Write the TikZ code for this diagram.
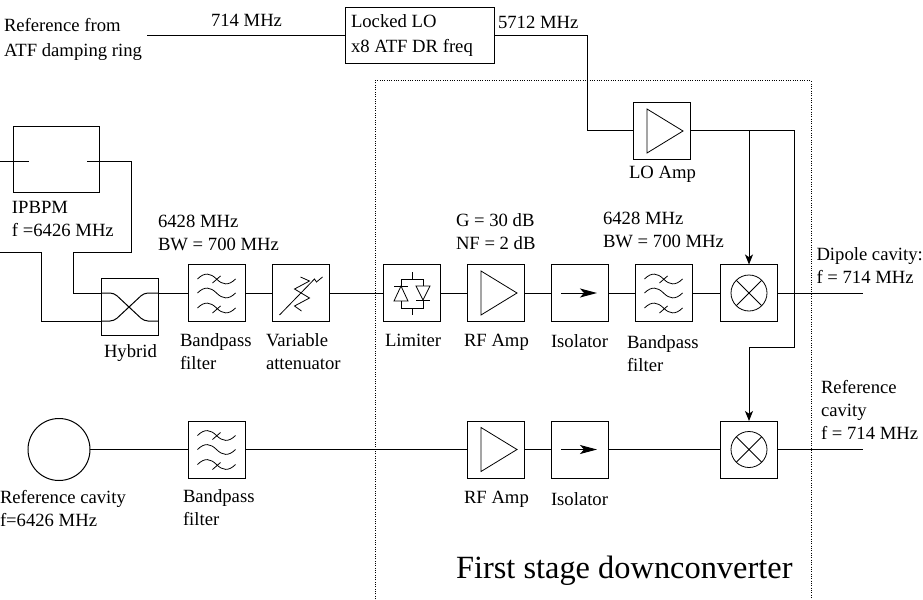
\documentclass[tikz,border=0pt]{standalone}
\usepackage{fontspec}
\setmainfont{Liberation Serif}
\usetikzlibrary{arrows.meta}
\tikzset{
  unit/.style={draw,line width=0.75pt,minimum size=42.75pt,inner sep=0pt,outer sep=0pt},
  wire/.style={line width=0.75pt},
  sym/.style={line width=0.6pt},
  lbl/.style={anchor=north west,inner sep=0pt,outer sep=0pt,align=left,font=\fontsize{14}{17.3}\selectfont},
}
\newcommand{\wavesym}[1]{\begin{scope}[shift={(#1)},sym]
  \foreach \yy in {-14,0,15}{
    \draw (-19,\yy) .. controls (-12,\yy-7) and (-6,\yy-6) .. (0,\yy) .. controls (6,\yy+6) and (12,\yy+7) .. (19,\yy);}
  \draw (-4,-10) -- (4,-17);
  \draw (-4,20) -- (4,13);
\end{scope}}
\newcommand{\ampsym}[1]{\begin{scope}[shift={(#1)},sym]
  \draw (-15,-22) -- (21,0) -- (-15,22) -- cycle;
\end{scope}}
\newcommand{\isosym}[1]{\begin{scope}[shift={(#1)}]
  \draw[wire,-{Stealth[length=12.75pt,width=6.75pt,inset=3pt]}] (-19,0) -- (17,0);
\end{scope}}
\newcommand{\mixsym}[1]{\begin{scope}[shift={(#1)},sym]
  \draw (0,0) circle (18);
  \draw (-12.7,-12.7) -- (12.7,12.7) (-12.7,12.7) -- (12.7,-12.7);
\end{scope}}
\newcommand{\attsym}[1]{\begin{scope}[shift={(#1)},sym]
  \draw (-21,22) -- (14,-14) -- (16,-11) -- (22,-16);
  \draw (0,-16) -- (9,-12) -- (-6,-4) -- (9,5) -- (-6,13) -- (1,18);
\end{scope}}
\newcommand{\limsym}[1]{\begin{scope}[shift={(#1)},sym]
  \draw (0,-21) -- (0,-14) (0,15) -- (0,22);
  \draw (-11,-7) -- (-11,-14) -- (11,-14) -- (11,-7);
  \draw (-11,8) -- (-11,15) -- (11,15) -- (11,7);
  \draw (-11,-7) -- (-18,8) -- (-4,8) -- cycle;
  \draw (-18,-7) -- (-4,-7);
  \draw (4,-7) -- (18,-7) -- (11,7) -- cycle;
  \draw (4,7) -- (18,7);
\end{scope}}
\begin{document}
\begin{tikzpicture}[x=0.75pt,y=-0.75pt]
\path[use as bounding box] (0,0) rectangle (923,599);
\clip (0,0) rectangle (923,599);
% frame
\draw[line width=0.75pt,densely dotted] (375,599) -- (375,81) -- (811,81) -- (811,599);
% units
\node[draw,line width=0.75pt,minimum width=111.75pt,minimum height=42pt,inner sep=0,outer sep=0] (lo) at (419.5,36) {};
\node[unit] (loamp) at (662,131) {};
\node[draw,line width=0.75pt,minimum width=64.5pt,minimum height=48.75pt,inner sep=0,outer sep=0] (bpm) at (56.5,159.5) {};
\node[unit] (hyb) at (129.5,307) {};
\node[unit] (bp1) at (216.5,293) {};
\node[unit] (att) at (300.5,293) {};
\node[unit] (lim) at (412,293) {};
\node[unit] (amp1) at (496,293) {};
\node[unit] (iso1) at (580,293) {};
\node[unit] (bp2) at (663.5,293) {};
\node[unit] (mix1) at (749,293) {};
\node[draw,circle,line width=0.75pt,minimum size=46.5pt,inner sep=0,outer sep=0] (cav) at (59,449.5) {};
\node[unit] (bp3) at (216.5,449.5) {};
\node[unit] (amp2) at (496,449.5) {};
\node[unit] (iso2) at (580,449.5) {};
\node[unit] (mix2) at (749,449.5) {};
% symbols
\ampsym{loamp.center}\ampsym{amp1.center}\ampsym{amp2.center}
\wavesym{bp1.center}\wavesym{bp2.center}\wavesym{bp3.center}
\attsym{att.center}\limsym{lim.center}
\isosym{iso1.center}\isosym{iso2.center}
\mixsym{mix1.center}\mixsym{mix2.center}
% free ends
\coordinate (refin) at (147,36);
\coordinate (bpmL) at (29,161);
\coordinate (bpmLo) at (-2,161);
\coordinate (bpmR) at (87,161);
\coordinate (cavL) at (-2,252);
\coordinate (out1) at (863,293);
\coordinate (out2) at (863,449.5);
\coordinate (bend) at (794,131);
% connectors
\draw[wire] (refin) -- (lo.west);
\draw[wire] (lo.east) -- (587,36) |- (loamp.west);
\draw[wire] (loamp.east) -- (bend) -- (794,347) -- (mix2.north |- 0,347);
\draw[wire,-{Stealth[length=7.5pt,width=6pt,inset=2pt]}] (mix1.north |- loamp.east) -- (mix1.north);
\draw[wire,-{Stealth[length=7.5pt,width=6pt,inset=2pt]}] (mix2.north |- 0,347) -- (mix2.north);
\draw[wire] (bpmLo) -- (bpmL);
\draw[wire] (bpmR) -- (131,161) -- (131,252) -- (73,252) -- (73,293) -- (hyb.west |- 0,293);
\draw[wire] (cavL) -- (41,252) -- (41,321) -- (hyb.west |- 0,321);
\draw[wire,rounded corners=3pt] (hyb.west |- 0,293) -- (114,293) -- (144,321) -- (hyb.east |- 0,321);
\draw[wire,rounded corners=3pt] (hyb.west |- 0,321) -- (114,321) -- (144,293) -- (hyb.east |- 0,293);
\draw[wire] (hyb.east |- bp1.west) -- (bp1.west);
\draw[wire] (bp1) -- (att);
\draw[wire] (att) -- (lim);
\draw[wire] (lim) -- (amp1);
\draw[wire] (amp1) -- (iso1);
\draw[wire] (iso1) -- (bp2);
\draw[wire] (bp2) -- (mix1);
\draw[wire] (mix1.east) -- (out1);
\draw[wire] (cav) -- (bp3);
\draw[wire] (bp3) -- (amp2);
\draw[wire] (amp2) -- (iso2);
\draw[wire] (iso2) -- (mix2);
\draw[wire] (mix2.east) -- (out2);
% labels
\node[lbl] (t1) at (4,18.5) {Reference from\\[1.5pt]ATF damping ring};
\node[lbl] (t2) at (211,14.5) {714 MHz};
\node[lbl] (t3) at (351,14.5) {Locked LO\\[1.5pt]x8 ATF DR freq};
\node[lbl] (t4) at (498,16.5) {5712 MHz};
\node[lbl] (t5) at (12,201.5) {IPBPM\\f =6426 MHz};
\node[lbl] (t6) at (158,215.5) {6428 MHz\\BW = 700 MHz};
\node[lbl] (t7) at (180,333.5) {Bandpass\\filter};
\node[lbl] (t8) at (104,344.5) {Hybrid};
\node[lbl] (t9) at (266,333.5) {Variable\\attenuator};
\node[lbl] (t10) at (456,213.5) {G = 30 dB\\NF = 2 dB};
\node[lbl] (t11) at (385,334.5) {Limiter};
\node[lbl] (t12) at (464,334.5) {RF Amp};
\node[lbl] (t13) at (551,334.5) {Isolator};
\node[lbl] (t14) at (603,212.5) {6428 MHz\\BW = 700 MHz};
\node[lbl] (t15) at (627,335.5) {Bandpass\\filter};
\node[lbl] (t16) at (629,166.5) {LO Amp};
\node[lbl] (t17) at (816.5,247.5) {Dipole cavity:\\f = 714 MHz};
\node[lbl] (t18) at (821,380.5) {Reference\\cavity\\f = 714 MHz};
\node[lbl] (t19) at (0,490.5) {Reference cavity\\f=6426 MHz};
\node[lbl] (t20) at (183,489.5) {Bandpass\\filter};
\node[lbl] (t21) at (464,491.5) {RF Amp};
\node[lbl] (t22) at (551,492.5) {Isolator};
\node[lbl,font=\fontsize{24.3}{28}\selectfont] (t23) at (456,556) {First stage downconverter};
\end{tikzpicture}
\end{document}
